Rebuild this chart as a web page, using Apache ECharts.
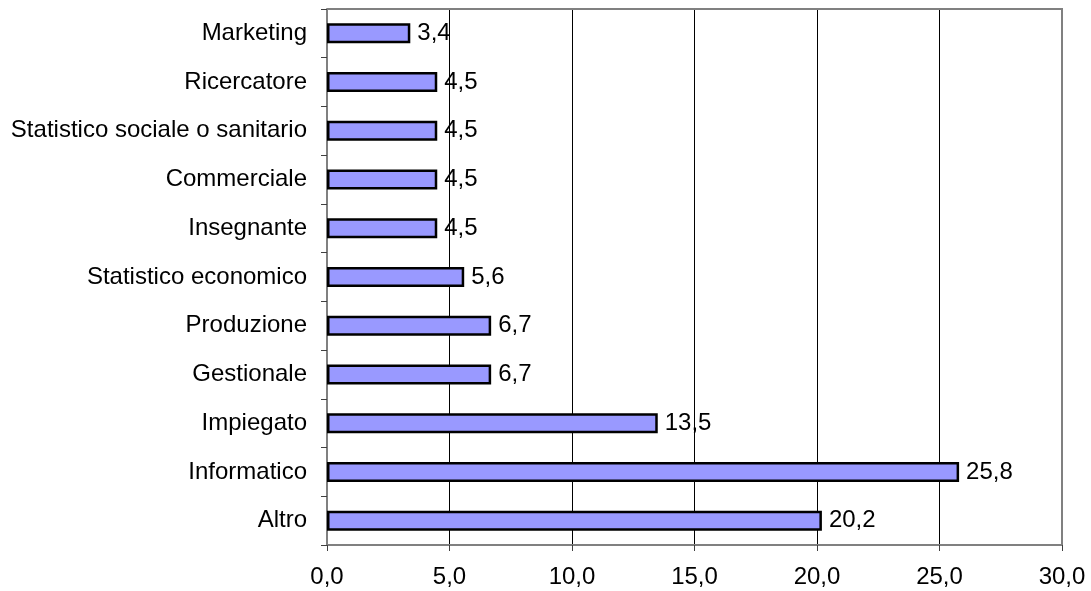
<!DOCTYPE html>
<html>
<head>
<meta charset="utf-8">
<script src="https://cdn.jsdelivr.net/npm/echarts@6/dist/echarts.min.js"></script>
<style>
  html, body { margin: 0; padding: 0; background: #fff; }
  #chart { width: 1091px; height: 591px; }
</style>
</head>
<body>
<div id="chart"></div>
<script>
// Categories listed bottom to top
const categories = [
  'Altro', 'Informatico', 'Impiegato', 'Gestionale', 'Produzione',
  'Statistico economico', 'Insegnante', 'Commerciale',
  'Statistico sociale o sanitario', 'Ricercatore', 'Marketing'
];
const values = [20.2, 25.8, 13.5, 6.7, 6.7, 5.6, 4.5, 4.5, 4.5, 4.5, 3.4];
const xTicks = [0, 5, 10, 15, 20, 25, 30];

const fmt = v => v.toFixed(1).replace('.', ',');
const font = 'Liberation Sans, Arial, sans-serif';

const chart = echarts.init(document.getElementById('chart'));
chart.setOption({
  animation: false,
  grid: { left: 327, top: 9, right: 29, bottom: 46, containLabel: false },
  xAxis: {
    type: 'value',
    min: xTicks[0],
    max: xTicks[xTicks.length - 1],
    interval: 5,
    axisLine: { show: true, onZero: false, lineStyle: { color: '#808080', width: 2 } },
    axisTick: { show: true, length: 6, lineStyle: { color: '#404040', width: 1 } },
    axisLabel: { color: '#000', fontSize: 24, fontFamily: font, margin: 20, formatter: fmt },
    splitLine: { show: true, lineStyle: { color: '#000', width: 1 } }
  },
  yAxis: {
    type: 'category',
    data: categories,
    axisLine: { show: true, lineStyle: { color: '#808080', width: 2 } },
    axisTick: { show: true, length: 6, lineStyle: { color: '#404040', width: 1 } },
    axisLabel: { color: '#000', fontSize: 24, fontFamily: font, margin: 20 }
  },
  series: [
    {
      type: 'bar',
      data: values,
      barWidth: 20,
      itemStyle: { color: '#9999FF', borderColor: '#000', borderWidth: 2.5 },
      label: {
        show: true, position: 'right', distance: 7,
        color: '#000', fontSize: 24, fontFamily: font,
        formatter: p => fmt(p.value)
      }
    },
    {
      // right edge of the plot frame
      type: 'line',
      data: [],
      markLine: {
        silent: true, symbol: 'none', label: { show: false },
        lineStyle: { color: '#808080', width: 2, type: 'solid' },
        data: [
          { xAxis: 30 }
        ]
      }
    }
  ]
});

// top edge of the plot frame, placed from the axis pixel positions
const p0 = chart.convertToPixel({ xAxisIndex: 0 }, 0);
const p1 = chart.convertToPixel({ xAxisIndex: 0 }, 30);
const gridRect = chart.getModel().getComponent('grid').coordinateSystem.getRect();
chart.setOption({
  graphic: [{
    type: 'line',
    shape: { x1: p0, y1: gridRect.y, x2: p1 + 1, y2: gridRect.y },
    style: { stroke: '#808080', lineWidth: 2 },
    silent: true
  }]
});
</script>
</body>
</html>
